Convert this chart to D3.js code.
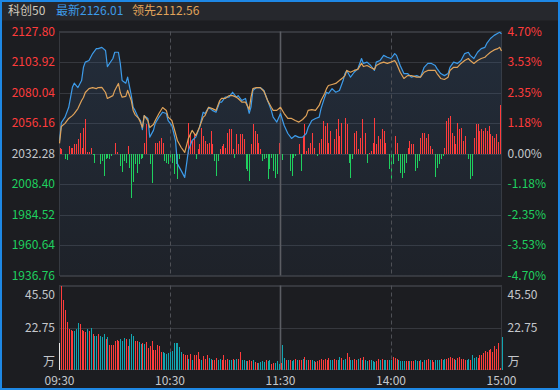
<!DOCTYPE html>
<html>
<head>
<meta charset="utf-8">
<script src="https://cdn.jsdelivr.net/npm/d3@7.9.0/dist/d3.min.js"></script>
<style>
  html, body { margin: 0; padding: 0; background: #1c1d21; }
  svg { display: block; font-family: "Noto Sans CJK SC", "Noto Sans", sans-serif; }
</style>
</head>
<body>
<svg id="chart" width="560" height="390"></svg>
<script>
// adjust: chart size
const width = 560;
const height = 390;

// adjust: panel edges
const plot = { left: 59.5, right: 501.5, top: 31.5, bottom: 275.5 };
const volBox = { top: 285.5, bottom: 369.5 };

// header values
const indexName = "科创50";
const lastPrice = 2126.01;
const leadPrice = 2112.56;
const preClose = 2032.28;

// axis ticks
const priceTicks = [2127.80, 2103.92, 2080.04, 2056.16, 2032.28, 2008.40, 1984.52, 1960.64, 1936.76];
const pctTicks = [4.70, 3.53, 2.35, 1.18, 0, -1.18, -2.35, -3.53, -4.70];
const volTicks = [45.50, 22.75];
const volUnit = "万";
const timeLabels = ["09:30", "10:30", "11:30", "14:00", "15:00"];
const timeMinutes = [0, 60, 120, 180, 240];

// line samples: minute index (0 = 09:30, 120 = 11:30/13:00, 240 = 15:00)
const lineMinutes = [0,1,3,5,7,8,10,12,13,14,16,18,20,21,23,25,26,29,30,32,33,34,36,37,39,40,41,43,44,45,46,48,49,51,52,54,56,58,59,61,63,64,66,68,70,72,74,76,78,79,81,83,85,87,88,90,92,94,96,97,99,101,103,104,105,107,109,111,113,115,116,118,120,122,124,126,128,130,132,134,135,137,139,141,142,144,145,146,148,150,152,154,155,156,158,160,162,164,165,167,169,171,172,174,176,178,180,182,183,185,187,189,191,194,196,198,200,202,204,205,207,209,211,212,214,216,218,220,222,223,225,227,229,231,232,234,236,238,239,240];
// percent change of the index (最新)
const lastPct = [0.50,1.19,1.40,1.78,2.55,2.71,2.54,2.81,3.32,3.52,3.58,3.85,4.04,4.04,4.09,3.97,3.35,3.66,3.90,3.90,3.47,2.81,2.71,2.94,2.23,1.78,1.66,1.35,1.27,0.92,1.46,1.35,0.63,0.89,1.16,1.40,1.59,1.54,1.27,1.08,0.50,-0.39,-0.65,-0.92,0.12,0.50,0.63,1.00,1.59,1.54,1.78,1.66,1.59,1.98,1.98,2.17,2.17,2.36,2.17,2.23,2.04,2.12,1.55,1.80,2.43,2.54,2.54,2.43,2.04,1.66,1.40,1.21,1.54,1.08,0.77,0.58,0.69,0.62,0.63,0.77,1.00,1.27,1.35,1.40,1.73,2.17,2.36,2.31,2.50,2.36,2.43,2.81,3.08,3.20,2.94,3.13,3.27,3.66,3.47,3.52,3.39,3.20,3.52,3.58,3.78,3.71,3.66,3.85,3.78,3.39,3.08,3.08,2.94,3.00,2.94,3.32,3.47,3.47,3.39,3.27,3.08,3.00,3.08,3.32,3.52,3.47,3.58,3.85,3.90,3.78,3.66,3.90,4.04,4.09,4.24,4.43,4.55,4.63,4.67,4.61];
// percent change of the lead line (领先)
const leadPct = [0.39,1.04,1.16,1.35,1.46,1.54,1.73,2.04,2.16,2.35,2.50,2.54,2.50,2.54,2.55,2.35,2.12,2.23,2.43,2.70,2.35,2.17,2.20,2.43,2.04,1.66,1.50,1.35,1.19,1.01,1.46,1.27,1.00,1.12,1.27,1.54,1.77,1.66,1.40,1.27,0.77,0.50,0.24,0.04,0.58,0.89,0.69,1.01,1.40,1.46,1.78,1.73,1.66,2.04,2.12,2.12,2.23,2.23,2.17,2.12,1.98,1.98,1.70,2.17,2.50,2.54,2.54,2.40,2.04,1.78,1.66,1.66,1.78,1.54,1.35,1.35,1.27,1.21,1.31,1.46,1.66,1.69,1.66,1.85,2.04,2.31,2.50,2.62,2.66,2.70,2.81,2.93,3.00,3.20,3.13,3.20,3.24,3.47,3.35,3.39,3.31,3.24,3.39,3.47,3.52,3.47,3.52,3.58,3.47,3.13,2.89,3.00,3.00,2.94,2.94,3.13,3.20,3.20,3.20,3.08,2.89,2.85,2.94,3.20,3.32,3.32,3.47,3.58,3.66,3.58,3.47,3.58,3.66,3.71,3.78,3.90,3.99,4.04,4.09,3.95];

// red/green strength bars: [minute, value]
const strength = [[0,6],[1,5],[3,-5],[4,-6],[5,8],[6,6],[7,6],[8,10],[9,10],[10,15],[11,21],[12,6],[13,26],[14,35],[15,2],[16,2],[17,6],[18,-1],[19,-9],[22,-10],[23,-7],[24,-22],[25,-5],[26,-4],[27,-5],[28,-2],[30,11],[31,2],[33,-12],[34,-18],[35,-7],[36,-9],[37,8],[38,-14],[39,-44],[40,-28],[41,-10],[42,-19],[43,-10],[44,-5],[45,-4],[46,11],[47,30],[49,-10],[50,-29],[52,11],[53,11],[54,13],[55,16],[56,11],[57,-7],[58,-9],[59,-10],[60,-7],[61,-9],[62,-20],[63,-10],[64,-25],[65,-5],[70,31],[71,21],[72,13],[73,20],[74,-5],[75,5],[76,10],[77,26],[78,18],[79,13],[80,10],[81,11],[82,23],[83,10],[84,-7],[85,-22],[86,-7],[87,5],[88,8],[89,10],[90,6],[91,21],[92,25],[93,25],[94,5],[95,-4],[96,20],[97,10],[98,20],[99,20],[100,15],[101,-15],[102,-17],[103,-27],[104,10],[105,30],[106,23],[107,20],[108,11],[109,5],[110,-7],[111,-5],[112,-4],[113,-25],[114,-15],[115,-4],[116,-17],[117,-24],[118,-20],[119,11],[121,-6],[125,-17],[126,-22],[127,-4],[128,-2],[130,10],[131,-17],[132,18],[133,30],[134,3],[135,6],[136,11],[137,21],[138,6],[140,-2],[141,11],[142,15],[143,33],[144,28],[145,31],[146,11],[147,23],[149,15],[150,25],[151,35],[152,18],[153,31],[155,36],[156,30],[157,-9],[158,-24],[159,-5],[160,21],[161,23],[162,5],[163,16],[164,35],[166,21],[167,-9],[168,1],[169,3],[170,11],[171,36],[172,10],[173,18],[174,15],[175,25],[176,23],[177,11],[179,-15],[180,-25],[181,-10],[182,18],[183,11],[184,-7],[185,-19],[186,-24],[187,-19],[188,-9],[189,6],[190,13],[191,10],[192,10],[193,-17],[194,-14],[195,-7],[196,16],[197,21],[198,21],[199,16],[200,20],[201,8],[202,5],[204,-23],[205,-14],[206,-10],[207,-5],[208,-2],[209,6],[210,33],[211,36],[212,38],[213,21],[214,18],[215,10],[216,31],[217,25],[218,26],[219,13],[220,18],[222,-5],[223,-25],[224,-22],[225,16],[226,30],[227,30],[228,23],[229,25],[230,23],[231,26],[232,23],[233,28],[234,20],[235,18],[236,16],[237,20],[238,12],[239,49]];

// volume per minute (万), 241 values
const auctionVol = 14.3;
const volume = [34.7,45.5,37.7,32,25.6,22,21.5,20.8,21.1,22,
  25.3,24.4,21.5,21.1,20.2,22,20.8,22.6,19.3,18.4,
  18.1,19,17.9,17.5,19.3,16.6,17.5,13.5,13.5,13.5,
  15.7,16.1,15.7,16.6,15.7,17,16.6,12.5,16.6,19,
  18.4,15.7,15.2,14.8,13.9,14.4,13.9,14.8,11.6,13,
  15.2,10.8,10.6,13.5,12.5,9.7,9.4,8.8,8.5,8.8,
  9.7,9.9,14.3,14.3,14.3,12.1,9.4,8.5,7.6,8.1,
  5.8,8.5,5.2,7.6,8.1,9.7,5.8,5.2,7.4,5.8,
  8.1,6.3,5.8,4.9,5.2,6.3,5.2,5.8,5.2,7.6,
  5.2,5.8,5.2,4.9,5.8,5.2,5.8,5.8,9.4,5.2,
  5.2,4.5,4.5,4.9,4.5,5.2,4,3.4,3.4,4,
  4.5,4,4.9,4.5,4.9,3.1,3.4,3.4,4.5,3.1,
  3.4,
  13.5,6.3,5.2,4.9,5.2,4.5,5.2,5.8,5.2,4.9,
  5.2,5.8,7,4.9,4.9,4.9,4.9,4.5,4,4.5,
  4.9,5.8,5.2,5.8,5.2,6.3,5.2,4.9,5.8,5.2,
  5.2,7,6.3,5.2,5.8,8.8,6.7,5.2,4.9,5.8,
  5.2,5.8,6.3,4.9,7,4.9,4.5,4.9,4.9,4.5,
  4,4.5,5.8,5.2,5.8,5.2,4.9,4.9,5.2,4.9,
  7,6.3,5.8,4.9,4.5,4.5,4.5,4.5,4.5,4.5,
  4.5,4.5,4.9,4.5,4.5,4.9,4,4.9,4.9,5.8,
  4.9,5.2,4,4.9,5.2,5.2,5.8,4.9,5.8,5.8,
  6.3,7,6.3,5.8,5.2,6.3,6.7,5.8,5.8,4.9,
  4.9,5.8,5.2,7.6,6.3,6.7,6.3,7.6,8.1,8.8,
  9.9,9.4,10.3,11.2,9.7,13,11.2,14.3,0.9,17.5];
// u = up minute (red), d = down minute (teal), one char per minute
const volSide =
  "uuuuuuuudd" + "duuuududud" + "duddduduuu" + "uuuddduudd" +
  "duudduduuu" + "uuuuuudddd" + "ddddddduuu" + "duduuuuduu" +
  "udduuudduu" + "uuddudduud" + "dduuuduudd" + "ddudduuddd" + "u" +
  "ddududdudu" + "ududuudduu" + "uuuuuudduu" + "ddudduuddu" +
  "udududdudd" + "duududdudd" + "uuudddduud" + "uuddududuu" +
  "duuddduddu" + "uuuuduuuuu" + "dduddduuuu" + "uuuuuuuuud";

const svg = d3.select("#chart");

// background + title bar
svg.append("rect").attr("width", width).attr("height", height).attr("fill", "#1c1d21");
svg.append("rect").attr("width", width).attr("height", 20.5).attr("fill", "#26282d");

const header = [
  { x: 8, text: indexName, color: "#cfc9bd" },
  { x: 56, text: "最新" + lastPrice.toFixed(2), color: "#3d9be9" },
  { x: 132, text: "领先" + leadPrice.toFixed(2), color: "#e0a35a" },
];
svg.append("g").selectAll("text").data(header).join("text")
  .attr("x", d => d.x).attr("y", 15).attr("font-size", 12)
  .attr("fill", d => d.color).text(d => d.text);

// scales
const x = d3.scaleLinear().domain([0, 240]).range([plot.left, plot.right]);
const pctY = d3.scaleLinear().domain([-4.70, 4.70]).range([plot.bottom, plot.top]);
const priceY = d3.scaleLinear().domain([1936.76, 2127.80]).range([plot.bottom, plot.top]);
const forceY = d3.scaleLinear().domain([-50, 50]).range([pctY(0) + 50, pctY(0) - 50]);
const volY = d3.scaleLinear().domain([0, 45.5]).range([volBox.bottom, volBox.top]);

const gridColor = "#36383e";
const upColor = "#ff3c3c";
const downColor = "#1fd05f";
const flatColor = "#c4c7cc";
const signColor = v => v > 0 ? upColor : v < 0 ? downColor : flatColor;

// area gradient
const defs = svg.append("defs");
const grad = defs.append("linearGradient").attr("id", "areaFill")
  .attr("x1", 0).attr("y1", 0).attr("x2", 0).attr("y2", 1);
grad.append("stop").attr("offset", "0%").attr("stop-color", "#3b6494").attr("stop-opacity", 0.22);
grad.append("stop").attr("offset", "100%").attr("stop-color", "#3b6494").attr("stop-opacity", 0.07);

// grid
const grid = svg.append("g").attr("shape-rendering", "crispEdges");
grid.selectAll("line.h").data(pctTicks).join("line")
  .attr("x1", plot.left).attr("x2", plot.right)
  .attr("y1", d => Math.round(pctY(d)) + 0.5).attr("y2", d => Math.round(pctY(d)) + 0.5)
  .attr("stroke", gridColor);
grid.selectAll("line.v").data(volTicks).join("line")
  .attr("x1", plot.left).attr("x2", plot.right)
  .attr("y1", d => Math.round(volY(d)) + 0.5).attr("y2", d => Math.round(volY(d)) + 0.5)
  .attr("stroke", gridColor);
[[plot.top, plot.bottom], [volBox.top, volBox.bottom]].forEach(([t, b]) => {
  grid.append("rect").attr("x", plot.left).attr("y", t)
    .attr("width", plot.right - plot.left).attr("height", b - t)
    .attr("fill", "none").attr("stroke", gridColor);
});

// area + strength bars
const series = lineMinutes.map((m, i) => ({ m, last: lastPct[i], lead: leadPct[i] }));

svg.append("path").datum(series)
  .attr("fill", "url(#areaFill)")
  .attr("d", d3.area().x(d => x(d.m)).y0(plot.bottom).y1(d => pctY(d.last)));

svg.append("g").attr("shape-rendering", "crispEdges")
  .selectAll("rect").data(strength).join("rect")
  .attr("x", d => Math.round(x(d[0])))
  .attr("width", 1)
  .attr("y", d => Math.min(forceY(d[1]), forceY(0)))
  .attr("height", d => Math.abs(forceY(d[1]) - forceY(0)))
  .attr("fill", d => d[1] > 0 ? upColor : downColor);

// vertical time lines
[60, 180].forEach(m => {
  [[plot.top, plot.bottom], [volBox.top, volBox.bottom]].forEach(([t, b]) => {
    svg.append("line").attr("x1", Math.round(x(m)) + 0.5).attr("x2", Math.round(x(m)) + 0.5)
      .attr("y1", t).attr("y2", b)
      .attr("stroke", "#4e5056").attr("stroke-dasharray", "4,3");
  });
});
[[plot.top, plot.bottom], [volBox.top, volBox.bottom]].forEach(([t, b]) => {
  svg.append("line").attr("x1", x(120)).attr("x2", x(120))
    .attr("y1", t).attr("y2", b)
    .attr("stroke", "#5b5d63").attr("stroke-width", 1.6);
});

// price lines
svg.append("path").datum(series)
  .attr("fill", "none").attr("stroke", "#3d9be9").attr("stroke-width", 1.2)
  .attr("stroke-linejoin", "round")
  .attr("d", d3.line().x(d => x(d.m)).y(d => pctY(d.last)));
svg.append("path").datum(series)
  .attr("fill", "none").attr("stroke", "#e0a35a").attr("stroke-width", 1.2)
  .attr("stroke-linejoin", "round")
  .attr("d", d3.line().x(d => x(d.m)).y(d => pctY(d.lead)));

// volume bars
const volG = svg.append("g").attr("shape-rendering", "crispEdges");
volG.append("rect")
  .attr("x", Math.round(x(0)) - 1).attr("width", 1)
  .attr("y", volY(auctionVol)).attr("height", volY(0) - volY(auctionVol))
  .attr("fill", "#e8e8e8");
volG.selectAll("rect.bar").data(volume).join("rect")
  .attr("class", "bar")
  .attr("x", (d, i) => Math.round(x(i)) + (i === 0 ? 1 : 0))
  .attr("width", 1)
  .attr("y", d => volY(d))
  .attr("height", d => volY(0) - volY(d))
  .attr("fill", (d, i) => volSide[i] === "u" ? "#ff3c3c" : "#12a5b0");

// axes
function styleAxis(g) {
  g.select(".domain").remove();
  g.selectAll("text").attr("font-size", 12).attr("font-family", "Noto Sans CJK SC, Noto Sans, sans-serif");
}

svg.append("g")
  .attr("transform", `translate(${plot.left - 0.5},0)`)
  .call(d3.axisLeft(priceY).tickValues(priceTicks).tickSize(0).tickPadding(4)
    .tickFormat(d => d.toFixed(2)))
  .call(styleAxis)
  .selectAll("text").attr("fill", d => signColor(d - preClose));

svg.append("g")
  .attr("transform", `translate(${plot.right},0)`)
  .call(d3.axisRight(pctY).tickValues(pctTicks).tickSize(0).tickPadding(6)
    .tickFormat(d => d.toFixed(2) + "%"))
  .call(styleAxis)
  .selectAll("text").attr("fill", d => signColor(d));

const volLeft = svg.append("g")
  .attr("transform", `translate(${plot.left - 0.5},0)`)
  .call(d3.axisLeft(volY).tickValues(volTicks).tickSize(0).tickPadding(4)
    .tickFormat(d => d.toFixed(2)))
  .call(styleAxis);
const volRight = svg.append("g")
  .attr("transform", `translate(${plot.right},0)`)
  .call(d3.axisRight(volY).tickValues(volTicks).tickSize(0).tickPadding(6)
    .tickFormat(d => d.toFixed(2)))
  .call(styleAxis);
[volLeft, volRight].forEach(g => {
  g.selectAll("text").attr("fill", "#c4c7cc");
  g.selectAll(".tick").filter(d => d === 45.5).select("text").attr("dy", "1.05em");
});
svg.append("text").attr("x", plot.left - 4.5).attr("y", 362).attr("dy", "0.35em")
  .attr("text-anchor", "end").attr("font-size", 12).attr("fill", "#c4c7cc").text(volUnit);
svg.append("text").attr("x", plot.right + 6).attr("y", 362).attr("dy", "0.35em")
  .attr("font-size", 12).attr("fill", "#c4c7cc").text(volUnit);

// time labels
svg.append("g").selectAll("text").data(timeLabels).join("text")
  .attr("x", (d, i) => x(timeMinutes[i]))
  .attr("y", 381).attr("dy", "0.35em")
  .attr("text-anchor", "middle").attr("font-size", 12).attr("fill", "#c4c7cc")
  .text(d => d);

// frame
svg.append("rect").attr("x", 1).attr("y", 1).attr("width", width - 2).attr("height", height - 2)
  .attr("fill", "none").attr("stroke", "#1e88e5").attr("stroke-width", 2);
</script>
</body>
</html>
